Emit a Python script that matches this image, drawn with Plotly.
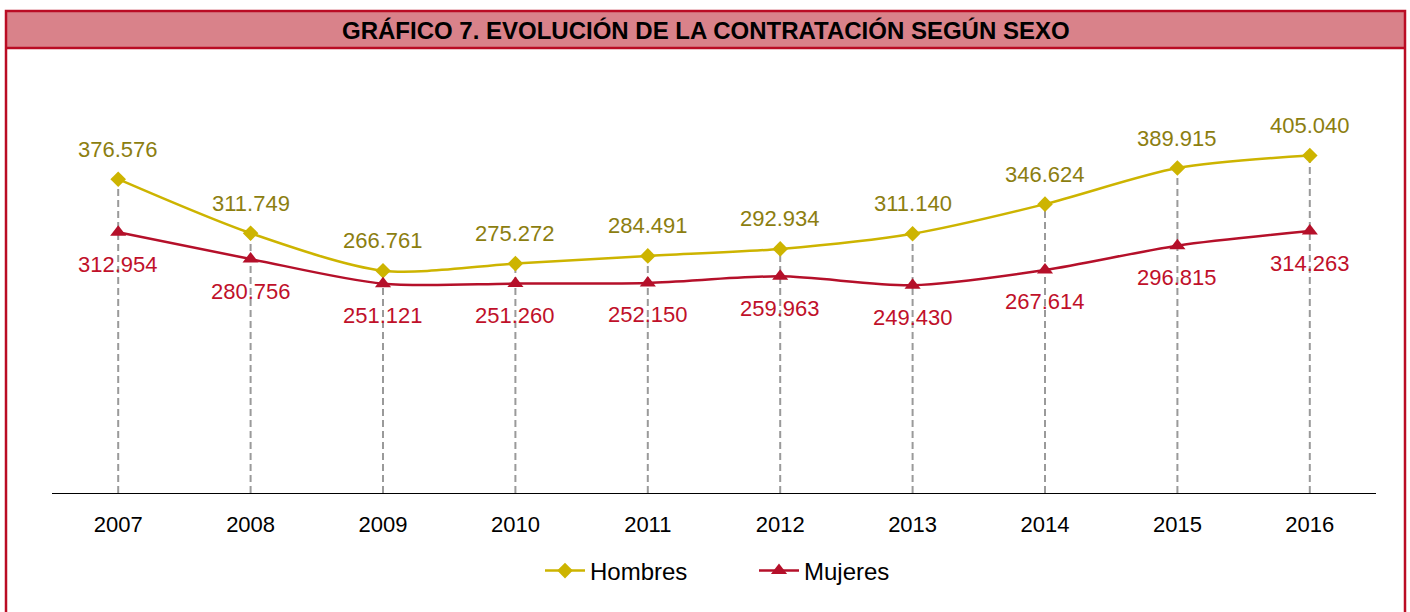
import plotly.graph_objects as go

years = ["2007", "2008", "2009", "2010", "2011", "2012", "2013", "2014", "2015", "2016"]
hombres = [376576, 311749, 266761, 275272, 284491, 292934, 311140, 346624, 389915, 405040]
mujeres = [312954, 280756, 251121, 251260, 252150, 259963, 249430, 267614, 296815, 314263]
title = "GRÁFICO 7. EVOLUCIÓN DE LA CONTRATACIÓN SEGÚN SEXO"

W, H = 1410, 612
PL, PR, PT, PB = 52, 1376, 76, 493
ML, MR, MT, MB = PL, W - PR, PT, H - PB
PW, PH = PR - PL, PB - PT

def px(x):
    return (x - PL) / PW

def py(y):
    return (PB - y) / PH

FONT = "Liberation Sans, Arial, sans-serif"
GOLD = "#CDB400"
GOLD_TXT = "#8C7E10"
RED = "#B5102A"
RED_TXT = "#C0102A"
BORDER = "#BA0C24"

def fmt(v):
    return f"{v:,}".replace(",", ".")

idx = list(range(len(years)))

fig = go.Figure()
fig.add_trace(go.Scatter(
    x=idx, y=hombres, name="Hombres", mode="lines+markers",
    line=dict(color=GOLD, width=2.5, shape="spline", smoothing=0.8),
    marker=dict(symbol="diamond", size=12, color=GOLD),
))
fig.add_trace(go.Scatter(
    x=idx, y=mujeres, name="Mujeres", mode="lines+markers",
    line=dict(color=RED, width=2.5, shape="spline", smoothing=0.8),
    marker=dict(symbol="triangle-up", size=14, color=RED),
))

shapes = []
for i, h in zip(idx, hombres):
    shapes.append(dict(type="line", xref="x", yref="y", x0=i, x1=i, y0=0, y1=h,
                       line=dict(color="#9A9A9A", width=2, dash="7px,4px"), layer="below"))
shapes.append(dict(type="rect", xref="paper", yref="paper",
                   x0=px(6), x1=px(1405), y0=py(48), y1=py(11),
                   fillcolor="#D9828A", line=dict(width=0), layer="below"))
shapes.append(dict(type="rect", xref="paper", yref="paper",
                   x0=px(6), x1=px(1405), y0=py(640), y1=py(11),
                   fillcolor="rgba(0,0,0,0)", line=dict(color=BORDER, width=2.5), layer="above"))
shapes.append(dict(type="line", xref="paper", yref="paper",
                   x0=px(6), x1=px(1405), y0=py(48), y1=py(48),
                   line=dict(color=BORDER, width=2.5), layer="above"))

annotations = []
for i, h in zip(idx, hombres):
    annotations.append(dict(x=i, y=h, xref="x", yref="y", text=fmt(h), showarrow=False,
                            yshift=30, font=dict(family=FONT, size=22, color=GOLD_TXT)))
for i, m in zip(idx, mujeres):
    annotations.append(dict(x=i, y=m, xref="x", yref="y", text=fmt(m), showarrow=False,
                            yshift=-32, font=dict(family=FONT, size=22, color=RED_TXT)))
annotations.append(dict(x=px(706), y=py(30), xref="paper", yref="paper", text="<b>" + title + "</b>",
                        showarrow=False, xanchor="center", yanchor="middle",
                        font=dict(family=FONT, size=24, color="#000000")))

fig.update_layout(
    width=W, height=H,
    margin=dict(l=ML, r=MR, t=MT, b=MB),
    paper_bgcolor="white", plot_bgcolor="white",
    font=dict(family=FONT, size=22, color="#000000"),
    shapes=shapes, annotations=annotations,
    showlegend=True,
    legend=dict(orientation="h", x=px(754), xanchor="center", y=py(571), yanchor="middle",
                font=dict(family=FONT, size=24, color="#000000"), itemwidth=40,
                entrywidth=159),
    xaxis=dict(range=[-0.5, 9.5], showgrid=False, zeroline=False,
               tickmode="array", tickvals=idx, ticktext=years,
               showline=True, linecolor="#000000", linewidth=1,
               ticks="outside", ticklen=12, tickcolor="rgba(0,0,0,0)",
               tickfont=dict(family=FONT, size=22, color="#000000")),
    yaxis=dict(range=[0, 500400], visible=False, showgrid=False, zeroline=False),
)

fig.write_html("out.html", config={"displayModeBar": False},
               post_script="document.body.style.margin='0';document.body.style.padding='0';"
                           "document.body.style.overflow='hidden';")
